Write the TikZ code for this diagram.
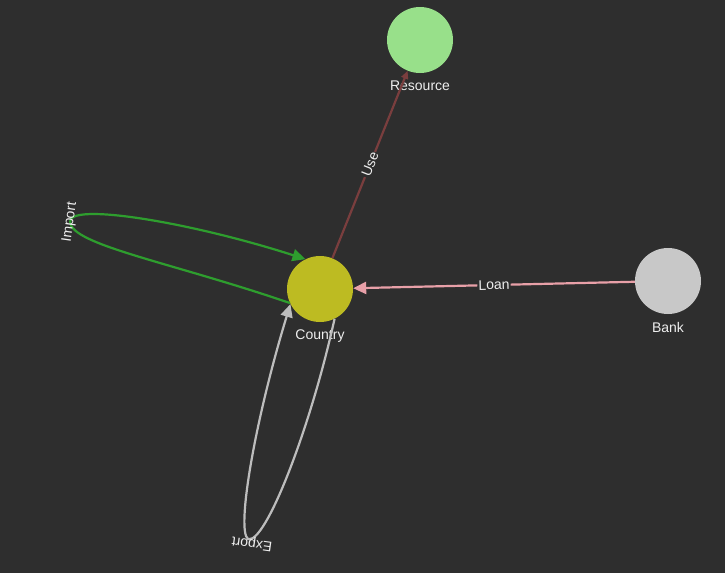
\documentclass[tikz,border=0pt]{standalone}
\usepackage{fontspec}
\setmainfont{Liberation Sans}
\usetikzlibrary{arrows.meta}
\definecolor{bg}{HTML}{2E2E2E}
\definecolor{countryc}{HTML}{BDBB22}
\definecolor{resourcec}{HTML}{98E08A}
\definecolor{bankc}{HTML}{C8C8C8}
\definecolor{usec}{HTML}{7A3E3E}
\definecolor{loanc}{HTML}{E8A0A8}
\definecolor{importc}{HTML}{2E9E2E}
\definecolor{exportc}{HTML}{BDBDBD}
\definecolor{txt}{HTML}{EEEEEE}
\tikzset{
  entity/.style={circle,minimum size=66pt,inner sep=0pt},
  tag/.style={text=txt,font=\fontsize{14}{16}\selectfont,inner sep=1pt},
  rel/.style={line width=2.2pt},
  tip/.style={-{Triangle[length=13pt,width=12pt]}}
}
\begin{document}
\begin{tikzpicture}[x=1pt,y=-1pt]
    \fill[bg](0,0) rectangle (725,573);
    % the three entities
    \node[entity,fill=countryc](country) at (320,289){};
    \node[entity,fill=resourcec](resource) at (420,40){};
    \node[entity,fill=bankc](bank) at (668,281){};
    \node[tag,below=6.5pt] at (country.south){Country};
    \node[tag,below=6.5pt] at (resource.south){Resource};
    \node[tag,below=6.5pt] at (bank.south){Bank};
    % straight relations
    \draw[rel,color=usec,-{Triangle[length=8pt,width=7pt]}](country) -- (resource)
      node[tag,midway,sloped,fill=bg]{Use};
    \draw[rel,color=loanc,tip](bank) -- (country)
      node[tag,midway,sloped,fill=bg]{Loan};
    % loops back onto country
    \coordinate (imp) at (70,222);
    \coordinate (exp) at (248,539);
    \draw[rel,color=importc,tip](country.205) .. controls (170,262) and (72,245) .. (imp)
      .. controls (68,202) and (190,222) .. (country.116);
    \draw[rel,color=exportc,tip](country.-64) .. controls (310,430) and (265,545) .. (exp)
      .. controls (236,530) and (255,420) .. (country.207);
    \node[tag,rotate=82] at (imp){Import};
    \node[tag,rotate=172] at (252,543){Export};
\end{tikzpicture}
\end{document}
